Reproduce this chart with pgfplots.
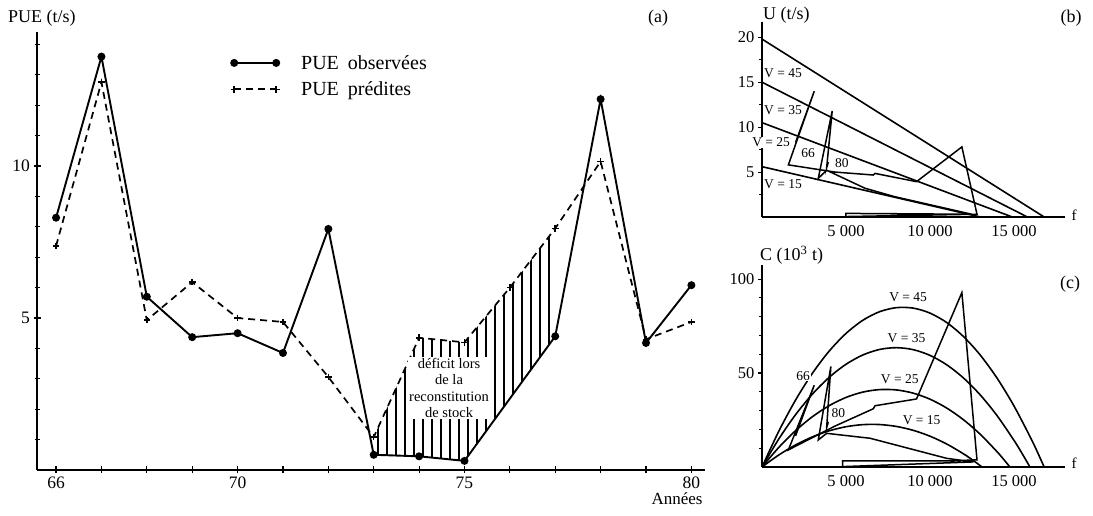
\documentclass[border=0pt]{standalone}
\usepackage{fontspec}
\setmainfont{Liberation Serif}
\usepackage{pgfplots}
\pgfplotsset{compat=1.18}
\usepgfplotslibrary{fillbetween}
\usetikzlibrary{patterns.meta}

\pgfplotsset{
  small/.style={
    scale only axis, width=303pt, xmin=0, xmax=18.04,
    axis lines=left, axis line style={-, line width=1.5pt},
    xtick={5,10,15}, xticklabels={5 000,10 000,15 000},
    xtick style={draw=none},
    ytick style={black, line width=1.1pt},
    tick align=outside, major tick length=4pt, minor tick length=3pt,
    ticklabel style={font=\fontsize{16.5}{18}\selectfont},
    xticklabel style={yshift=-1pt},
    /pgf/number format/assume math mode=true,
    clip=false,
  },
}
\tikzset{
  vlab/.style={font=\fontsize{13.5}{15}\selectfont, fill=white, inner sep=0.6pt},
  slab/.style={font=\fontsize{13.5}{15}\selectfont},
}

\begin{document}
\begin{tikzpicture}

% ---------------- panel (a) ----------------
\begin{axis}[
  at={(37pt,46pt)}, anchor=south west,
  scale only axis, width=668pt, height=438pt,
  xmin=65.58, xmax=80.3, ymin=0, ymax=14.41,
  axis lines=left, axis line style={-, line width=1.6pt},
  xtick={66,...,80}, xticklabels={66,,,,70,,,,,75,,,,,80},
  ytick={5,10}, minor ytick={1,2,3,4,6,7,8,9,11,12,13,14},
  tick align=center, major tick length=7pt, minor tick length=5pt,
  tick style={black, line width=1.2pt},
  ticklabel style={font=\fontsize{17.5}{19}\selectfont},
  /pgf/number format/assume math mode=true,
  clip=false,
  legend style={at={(0.290,0.952)}, anchor=north west, draw=none, fill=none,
    font=\fontsize{20}{23}\selectfont, row sep=7pt, inner sep=0pt,
    nodes={inner sep=2pt}},
  legend cell align=left,
  legend image code/.code={
    \draw[mark repeat=2, mark phase=1, #1] plot coordinates {(0pt,0pt) (21pt,0pt) (42pt,0pt)};
    \path (64pt,0pt);},
]
\addplot[name path=obs, black, line width=1.9pt, mark=*, mark size=3pt]
  coordinates {(66,8.3)(67,13.6)(68,5.7)(69,4.37)(70,4.5)(71,3.85)(72,7.93)
               (73,0.5)(74,0.45)(75,0.3)(77,4.4)(78,12.2)(79,4.18)(80,6.08)};
\addlegendentry{PUE\hspace{0.45em}observées}
\addplot[name path=pred, black, line width=1.7pt, dash pattern=on 7pt off 5pt,
         mark=+, mark size=3.3pt, mark options={solid, line width=1.5pt}]
  coordinates {(66,7.37)(67,12.76)(68,4.93)(69,6.18)(70,5.0)(71,4.87)(72,3.06)
               (73,1.08)(74,4.35)(75,4.2)(76,6.0)(77,7.95)(78,10.15)(79,4.3)(80,4.87)};
\addlegendentry{PUE\hspace{0.45em}prédites}
\addplot[forget plot, draw=none, pattern={Lines[angle=90,distance=9pt,line width=1.3pt]}]
  fill between[of=pred and obs, soft clip={domain=73:77}];
\node[fill=white, align=center, inner sep=1.5pt, font=\fontsize{14.5}{16.3}\selectfont]
  at (axis cs:74.66,2.7) {déficit lors\\de la\\reconstitution\\de stock};
\end{axis}

% ---------------- panel (b) ----------------
\begin{axis}[small,
  at={(762pt,299pt)}, anchor=south west, height=195pt,
  ymin=0, ymax=21.7,
  ytick={5,10,15,20}, minor ytick={2.5,7.5,12.5,17.5},
]
\addplot[black, line width=1.6pt] coordinates {(0,19.8)(16.8,0)};
\addplot[black, line width=1.6pt] coordinates {(0,15.0)(15.8,0)};
\addplot[black, line width=1.6pt] coordinates {(0,10.5)(14.9,0)};
\addplot[black, line width=1.6pt] coordinates {(0,5.6)(13.0,0)};
\addplot[black, line width=1.5pt] coordinates {
  (2.0,8.3)(3.11,14.0)(1.57,5.8)(4.35,5.0)(6.63,4.67)(6.73,4.85)(9.2,3.93)
  (11.9,7.8)(12.8,0.3)(5.0,0.4)(5.0,0.05)(12.5,0.3)(7.9,2.26)(6.13,3.2)
  (3.85,5.2)(3.35,4.3)(4.18,11.8)(3.85,5.5)(3.95,6.1)};
\node[vlab] at (axis cs:1.25,16) {V = 45};
\node[vlab] at (axis cs:1.25,11.9) {V = 35};
\node[vlab] at (axis cs:0.54,8.3) {V = 25};
\node[vlab] at (axis cs:1.25,3.6) {V = 15};
\node[slab] at (axis cs:2.74,7.1) {66};
\node[slab] at (axis cs:4.75,6.0) {80};
\end{axis}

% ---------------- panel (c) ----------------
\begin{axis}[small,
  at={(762pt,49pt)}, anchor=south west, height=202pt,
  ymin=0, ymax=107.5,
  ytick={50,100}, minor ytick={10,20,30,40,60,70,80,90},
]
\addplot[black, line width=1.6pt, smooth] coordinates {
  (0,0)(1,19.03)(2,35.66)(3,49.87)(4,61.68)(5,71.07)(6,78.06)(7,82.64)(8,84.80)
  (9,84.56)(10,81.91)(11,76.85)(12,69.38)(13,59.51)(14,47.22)(15,32.52)(16,15.42)(16.4,7.9)(16.8,0)};
\addplot[black, line width=1.6pt, smooth] coordinates {
  (0,0)(1,14.93)(2,27.86)(3,38.79)(4,47.72)(5,54.66)(6,59.60)(7,62.55)(8,63.50)
  (9,62.45)(10,59.41)(11,54.37)(12,47.33)(13,38.29)(14,27.26)(15,14.23)(15.5,6.96)(15.95,0)};
\addplot[black, line width=1.6pt, smooth] coordinates {
  (0,0)(1,10.43)(2,19.35)(3,26.75)(4,32.64)(5,37.01)(6,39.86)(7,41.19)(8,41.01)
  (9,39.31)(10,36.09)(11,31.36)(12,25.11)(13,17.35)(14,8.07)(14.4,3.93)(14.76,0)};
\addplot[black, line width=1.6pt, smooth] coordinates {
  (0,0)(1,6.40)(2,11.74)(3,16.03)(4,19.26)(5,21.43)(6,22.54)(7,22.59)(8,21.59)
  (9,19.52)(10,16.40)(11,12.22)(12,6.98)(12.6,3.33)(13.1,0)};
\addplot[black, line width=1.5pt] coordinates {
  (2.0,16.6)(3.11,43.5)(1.57,9.1)(4.35,21.8)(6.63,31.0)(6.73,32.6)(9.2,36.2)
  (11.9,92.8)(12.8,3.8)(11.1,3.2)(4.8,3.2)(4.8,0.2)(12.6,2.7)(11.0,4.6)
  (6.43,15.3)(3.85,17.9)(3.35,14.4)(4.1,53.5)(3.85,21)(3.95,24)};
\node[slab] at (axis cs:8.7,90.5) {V = 45};
\node[slab] at (axis cs:8.6,68.6) {V = 35};
\node[vlab] at (axis cs:8.2,46.8) {V = 25};
\node[slab] at (axis cs:9.5,25) {V = 15};
\node[vlab] at (axis cs:2.45,48.4) {66};
\node[slab] at (axis cs:4.55,28.7) {80};
\end{axis}

% ---------------- titles and labels ----------------
\node[anchor=west, inner sep=0pt, font=\fontsize{18}{20}\selectfont] at (8pt,498pt) {PUE (t/s)};
\node[font=\fontsize{18}{20}\selectfont] at (658pt,498pt) {(a)};
\node[font=\fontsize{17}{19}\selectfont] at (677pt,17pt) {Années};
\node[anchor=west, inner sep=0pt, font=\fontsize{18}{20}\selectfont] at (763pt,501pt) {U (t/s)};
\node[font=\fontsize{18}{20}\selectfont] at (1071pt,498pt) {(b)};
\node[font=\fontsize{15}{17}\selectfont] at (1074pt,301pt) {f};
\node[anchor=west, inner sep=0pt, font=\fontsize{18}{20}\selectfont] at (760pt,261pt) {C (10\textsuperscript{3} t)};
\node[font=\fontsize{18}{20}\selectfont] at (1070pt,232pt) {(c)};
\node[font=\fontsize{15}{17}\selectfont] at (1074pt,53pt) {f};
\path (0pt,0pt) rectangle (1093pt,516pt);
\end{tikzpicture}
\end{document}
